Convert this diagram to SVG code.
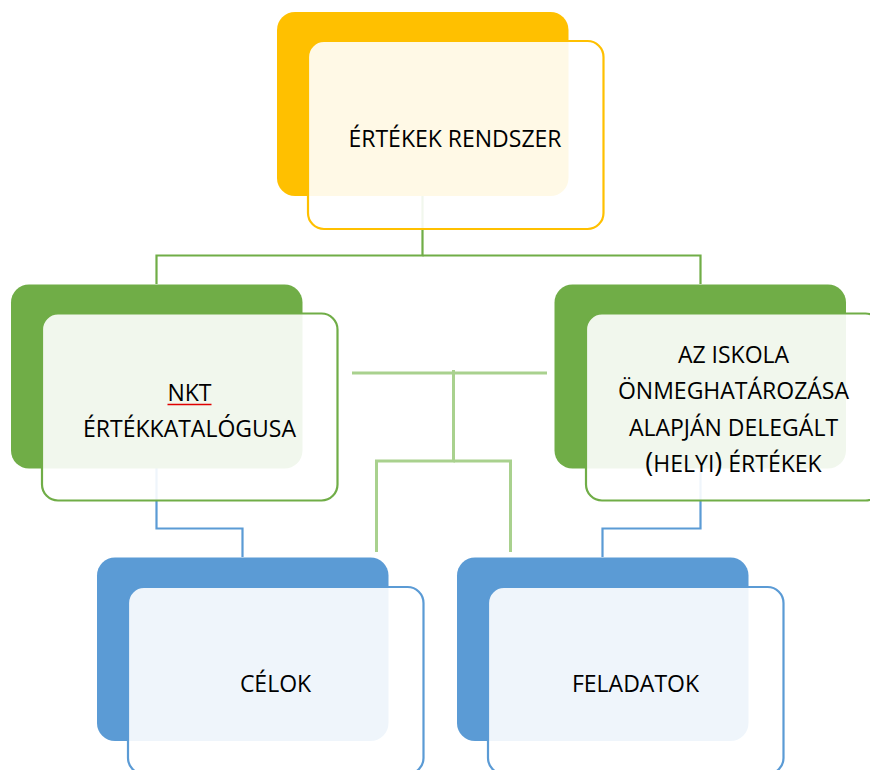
<svg xmlns="http://www.w3.org/2000/svg" width="870" height="770" viewBox="0 0 870 770">
<style>
.back{stroke:none}
.front{fill:#ffffff;fill-opacity:0.9;stroke-width:2.2}
.y .back{fill:#FFC000}.y .front{stroke:#FFC000}
.g .back{fill:#70AD47}.g .front{stroke:#70AD47}
.b .back{fill:#5B9BD5}.b .front{stroke:#5B9BD5}
.lbl{font-family:"Open Sans","Noto Sans","Liberation Sans",sans-serif;font-size:23px;fill:#000;text-anchor:middle}
.c{fill:none;stroke-linejoin:miter}
</style>
<rect width="870" height="770" fill="#ffffff"/>
<g id="connectors">
  <polyline class="c" points="422.5,196 422.5,255.5 156.5,255.5 156.5,284" stroke="#70AD47" stroke-width="2.2"/>
  <polyline class="c" points="422.5,255.5 700.5,255.5 700.5,284" stroke="#70AD47" stroke-width="2.2"/>
  <polyline class="c" points="156.5,468 156.5,528.5 242.5,528.5 242.5,557" stroke="#5B9BD5" stroke-width="2.2"/>
  <polyline class="c" points="700.5,468 700.5,528.5 602.5,528.5 602.5,557" stroke="#5B9BD5" stroke-width="2.2"/>
  <line x1="352" y1="373" x2="547" y2="373" stroke="#A9D18E" stroke-width="3"/>
  <polyline class="c" points="453.5,370 453.5,461 376.5,461 376.5,552" stroke="#A9D18E" stroke-width="3"/>
  <polyline class="c" points="453.5,461 510.5,461 510.5,552" stroke="#A9D18E" stroke-width="3"/>
</g>
<g id="node-ertekek-rendszer" class="y">
  <rect class="back" x="277" y="12" width="291.5" height="184" rx="18"/>
  <rect class="front" x="308" y="41" width="295.5" height="188" rx="16"/>
  <text class="lbl" x="455" y="146.5" font-size="24">ÉRTÉKEK RENDSZER</text>
</g>
<g id="node-nkt" class="g">
  <rect class="back" x="11" y="284.5" width="291.5" height="184" rx="18"/>
  <rect class="front" x="42" y="313.5" width="295.5" height="187" rx="16"/>
  <text class="lbl" x="189.5" y="400.5">NKT</text>
  <text class="lbl" x="189.5" y="436.5" font-size="22.5">ÉRTÉKKATALÓGUSA</text>
  <line x1="167.5" y1="404.5" x2="211.5" y2="404.5" stroke="#E00000" stroke-width="1.6"/>
</g>
<g id="node-iskola" class="g">
  <rect class="back" x="554.5" y="284.5" width="291.5" height="184" rx="18"/>
  <rect class="front" x="586" y="313.5" width="295.5" height="187" rx="16"/>
  <text class="lbl" x="733.5" y="362.5">AZ ISKOLA</text>
  <text class="lbl" x="733.5" y="399" font-size="22.5">ÖNMEGHATÁROZÁSA</text>
  <text class="lbl" x="733.5" y="435.5">ALAPJÁN DELEGÁLT</text>
  <text class="lbl" x="733.5" y="472"><tspan font-size="27">(</tspan>HELYI<tspan font-size="27">)</tspan> ÉRTÉKEK</text>
</g>
<g id="node-celok" class="b">
  <rect class="back" x="97" y="557.5" width="291.5" height="183.5" rx="18"/>
  <rect class="front" x="128" y="587" width="295.5" height="187" rx="16"/>
  <text class="lbl" x="275.5" y="691.5">CÉLOK</text>
</g>
<g id="node-feladatok" class="b">
  <rect class="back" x="457" y="557.5" width="291.5" height="183.5" rx="18"/>
  <rect class="front" x="488" y="587" width="295.5" height="187" rx="16"/>
  <text class="lbl" x="635.5" y="691.5">FELADATOK</text>
</g>
</svg>
